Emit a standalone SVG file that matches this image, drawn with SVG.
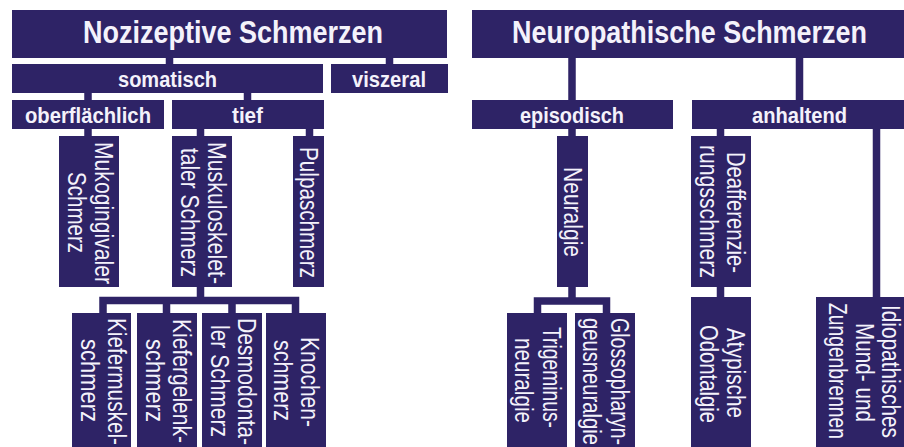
<svg xmlns="http://www.w3.org/2000/svg" width="904" height="447" viewBox="0 0 904 447">
<style>
.box{fill:#2e2366}
.h1{font-family:"Liberation Sans",Arial,sans-serif;font-weight:bold;font-size:32px;fill:#f4f2fb;text-anchor:middle}
.h2{font-family:"Liberation Sans",Arial,sans-serif;font-weight:bold;font-size:22px;fill:#f4f2fb;text-anchor:middle}
.v{font-family:"Liberation Sans",Arial,sans-serif;font-size:25px;fill:#f4f2fb;text-anchor:middle}
.c{fill:none;stroke:#2e2366;stroke-width:7.5;stroke-linejoin:miter}
</style>
<rect width="904" height="447" fill="#ffffff"/>
<g id="connectors">
<path class="c" d="M169.5,58V64M389.5,58V64M88,93V100M247.5,93V100M88,129V136M200.5,129V136M309.5,129V136"/>
<path class="c" d="M200.5,287V300.5M103,313V300.5H295.5V313M166.5,300.5V313M232,300.5V313"/>
<path class="c" d="M572,58V100M799.5,58V100M572,129V136M720.5,129V136M876.5,129V297M720.5,287V297"/>
<path class="c" d="M572,287V301M537.5,313V301H606.5V313"/>
</g>
<g id="n-nozizeptiv"><rect class="box" x="12" y="10" width="435" height="48"/><text class="h1" transform="translate(233,43) scale(0.85,1)" textLength="352.9" lengthAdjust="spacingAndGlyphs">Nozizeptive Schmerzen</text></g>
<g id="n-somatisch"><rect class="box" x="12" y="64" width="311" height="29"/><text class="h2" x="167.5" y="87" textLength="99" lengthAdjust="spacingAndGlyphs">somatisch</text></g>
<g id="n-viszeral"><rect class="box" x="331" y="64" width="117" height="29"/><text class="h2" x="389" y="87" textLength="74" lengthAdjust="spacingAndGlyphs">viszeral</text></g>
<g id="n-oberflaechlich"><rect class="box" x="12" y="100" width="152" height="29"/><text class="h2" x="88" y="123" textLength="126" lengthAdjust="spacingAndGlyphs">oberflächlich</text></g>
<g id="n-tief"><rect class="box" x="172" y="100" width="152" height="29"/><text class="h2" x="247.5" y="123" textLength="31" lengthAdjust="spacingAndGlyphs">tief</text></g>
<g id="n-mukogingival"><rect class="box" x="59" y="136" width="60" height="151"/>
<text class="v" transform="translate(95,213) rotate(90) scale(0.8,1)" textLength="177.5" lengthAdjust="spacingAndGlyphs">Mukogingivaler</text>
<text class="v" transform="translate(68,212.5) rotate(90) scale(0.8,1)" textLength="101.25" lengthAdjust="spacingAndGlyphs">Schmerz</text></g>
<g id="n-muskuloskelettal"><rect class="box" x="172" y="136" width="60" height="151"/>
<text class="v" transform="translate(208,213) rotate(90) scale(0.8,1)" textLength="177.5" lengthAdjust="spacingAndGlyphs">Muskuloskelet-</text>
<text class="v" transform="translate(181,212.5) rotate(90) scale(0.8,1)" textLength="161.25" lengthAdjust="spacingAndGlyphs">taler Schmerz</text></g>
<g id="n-pulpa"><rect class="box" x="293" y="136" width="31" height="151"/>
<text class="v" transform="translate(299.5,212.5) rotate(90) scale(0.8,1)" textLength="163.75" lengthAdjust="spacingAndGlyphs">Pulpaschmerz</text></g>
<g id="n-kiefermuskel"><rect class="box" x="72" y="313" width="59" height="134"/>
<text class="v" transform="translate(107.5,381.5) rotate(90) scale(0.8,1)" textLength="158.75" lengthAdjust="spacingAndGlyphs">Kiefermuskel-</text>
<text class="v" transform="translate(81,380.5) rotate(90) scale(0.8,1)" textLength="103.75" lengthAdjust="spacingAndGlyphs">schmerz</text></g>
<g id="n-kiefergelenk"><rect class="box" x="137" y="313" width="60" height="134"/>
<text class="v" transform="translate(173,381) rotate(90) scale(0.8,1)" textLength="155" lengthAdjust="spacingAndGlyphs">Kiefergelenk-</text>
<text class="v" transform="translate(146,380.5) rotate(90) scale(0.8,1)" textLength="103.75" lengthAdjust="spacingAndGlyphs">schmerz</text></g>
<g id="n-desmodontal"><rect class="box" x="202" y="313" width="60" height="134"/>
<text class="v" transform="translate(238,381.5) rotate(90) scale(0.8,1)" textLength="158.75" lengthAdjust="spacingAndGlyphs">Desmodonta-</text>
<text class="v" transform="translate(211,381) rotate(90) scale(0.8,1)" textLength="140" lengthAdjust="spacingAndGlyphs">ler Schmerz</text></g>
<g id="n-knochen"><rect class="box" x="266" y="313" width="60" height="134"/>
<text class="v" transform="translate(301,382) rotate(90) scale(0.8,1)" textLength="112.5" lengthAdjust="spacingAndGlyphs">Knochen-</text>
<text class="v" transform="translate(274,380.5) rotate(90) scale(0.8,1)" textLength="101.25" lengthAdjust="spacingAndGlyphs">schmerz</text></g>
<g id="n-neuropathisch"><rect class="box" x="472" y="10" width="432" height="48"/><text class="h1" transform="translate(689.5,43) scale(0.85,1)" textLength="417.6" lengthAdjust="spacingAndGlyphs">Neuropathische Schmerzen</text></g>
<g id="n-episodisch"><rect class="box" x="472" y="100" width="201" height="29"/><text class="h2" x="572" y="123" textLength="104" lengthAdjust="spacingAndGlyphs">episodisch</text></g>
<g id="n-anhaltend"><rect class="box" x="692" y="100" width="212" height="29"/><text class="h2" x="799.5" y="123" textLength="95" lengthAdjust="spacingAndGlyphs">anhaltend</text></g>
<g id="n-neuralgie"><rect class="box" x="557" y="136" width="31" height="151"/>
<text class="v" transform="translate(563.5,212) rotate(90) scale(0.8,1)" textLength="112.5" lengthAdjust="spacingAndGlyphs">Neuralgie</text></g>
<g id="n-trigeminus"><rect class="box" x="507" y="313" width="60" height="134"/>
<text class="v" transform="translate(543,377.5) rotate(90) scale(0.8,1)" textLength="126.25" lengthAdjust="spacingAndGlyphs">Trigeminus-</text>
<text class="v" transform="translate(515,380.5) rotate(90) scale(0.8,1)" textLength="106.25" lengthAdjust="spacingAndGlyphs">neuralgie</text></g>
<g id="n-glossopharyngeus"><rect class="box" x="575" y="313" width="60" height="134"/>
<text class="v" transform="translate(611,381.5) rotate(90) scale(0.8,1)" textLength="158.75" lengthAdjust="spacingAndGlyphs">Glossopharyn-</text>
<text class="v" transform="translate(583,381.5) rotate(90) scale(0.8,1)" textLength="158.75" lengthAdjust="spacingAndGlyphs">geusneuralgie</text></g>
<g id="n-deafferenzierung"><rect class="box" x="691" y="136" width="60" height="151"/>
<text class="v" transform="translate(727,212.5) rotate(90) scale(0.8,1)" textLength="151.25" lengthAdjust="spacingAndGlyphs">Deafferenzie-</text>
<text class="v" transform="translate(700,211.5) rotate(90) scale(0.8,1)" textLength="166.25" lengthAdjust="spacingAndGlyphs">rungsschmerz</text></g>
<g id="n-atypisch"><rect class="box" x="691" y="297" width="60" height="150"/>
<text class="v" transform="translate(727,373) rotate(90) scale(0.8,1)" textLength="112.5" lengthAdjust="spacingAndGlyphs">Atypische</text>
<text class="v" transform="translate(700,374) rotate(90) scale(0.8,1)" textLength="122.5" lengthAdjust="spacingAndGlyphs">Odontalgie</text></g>
<g id="n-idiopathisch"><rect class="box" x="816" y="297" width="88" height="150"/>
<text class="v" transform="translate(882,371.5) rotate(90) scale(0.8,1)" textLength="166.25" lengthAdjust="spacingAndGlyphs">Idiopathisches</text>
<text class="v" transform="translate(855.5,372.5) rotate(90) scale(0.8,1)" textLength="123.75" lengthAdjust="spacingAndGlyphs">Mund- und</text>
<text class="v" transform="translate(829,371) rotate(90) scale(0.8,1)" textLength="170" lengthAdjust="spacingAndGlyphs">Zungenbrennen</text></g>
</svg>
